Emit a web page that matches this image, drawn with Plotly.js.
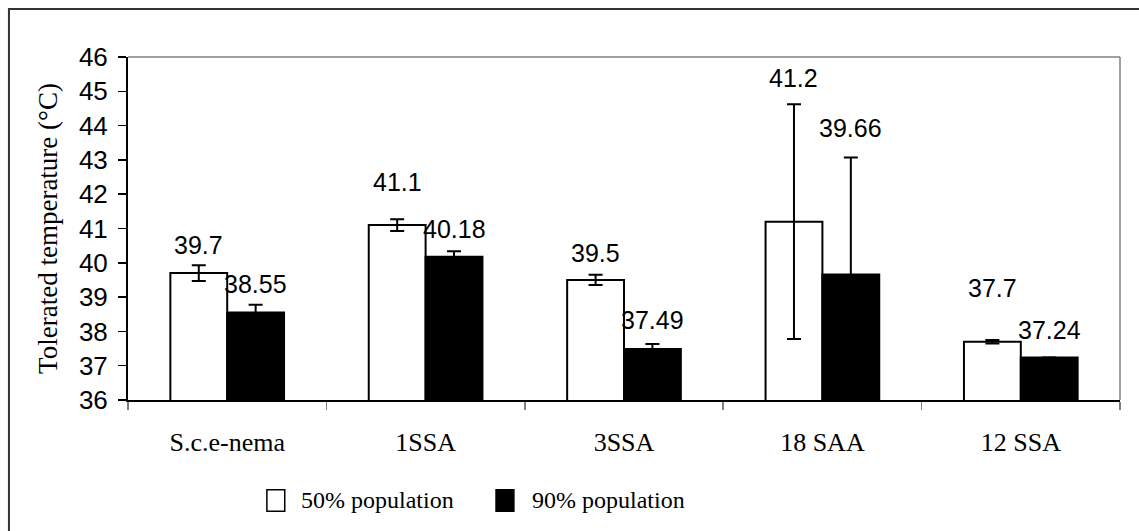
<!DOCTYPE html>
<html>
<head>
<meta charset="utf-8">
<script src="https://cdn.plot.ly/plotly-3.0.1.min.js"></script>
<style>
  html, body { margin: 0; padding: 0; background: #fff; }
  #chart { width: 1139px; height: 531px; }
</style>
</head>
<body>
<div id="chart"></div>
<script>
// Tolerated temperature of nematode isolates, 50% and 90% of population
const categories = ['S.c.e-nema', '1SSA', '3SSA', '18 SAA', '12 SSA'];
const seriesNames = ['50% population', '90% population'];
const pop50 = [39.7, 41.1, 39.5, 41.2, 37.7];
const pop90 = [38.55, 40.18, 37.49, 39.66, 37.24];
const err50 = [0.23, 0.17, 0.15, 3.42, 0.05];
const err90 = [0.23, 0.16, 0.14, 3.41, 0.0];
const yTicks = [36, 37, 38, 39, 40, 41, 42, 43, 44, 45, 46];

// vertical lift (px) of each value label above its bar top
const lift50 = [28, 43, 27, 144, 54];
const lift90 = [29, 28, 29, 146, 27];

const bargap = 0.427;
const barHalf = (1 - bargap) / 4; // centre offset of each bar within a category

const numFont = { family: 'Liberation Sans, Arial, sans-serif', size: 25, color: '#000' };
const tickNumFont = { family: 'Liberation Sans, Arial, sans-serif', size: 26, color: '#000' };
const serifFont = { family: 'Liberation Serif, Times New Roman, serif', size: 26, color: '#000' };

const traces = [
  {
    type: 'bar', name: seriesNames[0], x: categories, y: pop50,
    marker: { color: '#ffffff', line: { color: '#000', width: 2 } },
    error_y: { type: 'data', array: err50, visible: true, color: '#000', thickness: 2, width: 7 },
    showlegend: false, hoverinfo: 'x+y'
  },
  {
    type: 'bar', name: seriesNames[1], x: categories, y: pop90,
    marker: { color: '#000000', line: { color: '#000', width: 2 } },
    error_y: { type: 'data', array: err90, visible: true, color: '#000', thickness: 2, width: 7 },
    showlegend: false, hoverinfo: 'x+y'
  }
];

const annotations = [];
categories.forEach((c, i) => {
  annotations.push({
    x: i - barHalf, y: pop50[i], xref: 'x', yref: 'y', text: String(pop50[i]),
    showarrow: false, yanchor: 'middle', yshift: lift50[i], font: numFont
  });
  annotations.push({
    x: i + barHalf, y: pop90[i], xref: 'x', yref: 'y', text: String(pop90[i]),
    showarrow: false, yanchor: 'middle', yshift: lift90[i], font: numFont
  });
});

// legend drawn as boxes + labels below the axis
const legendFill = ['#ffffff', '#000000'];
const legendBoxX = [0.140, 0.371];
const legendTextX = [0.1724, 0.405];
const shapes = [
  // outer frame of the figure
  { type: 'rect', xref: 'paper', yref: 'paper', x0: -0.12, x1: 1.2, y0: -0.7, y1: 1.14,
    line: { color: '#333', width: 2 }, fillcolor: 'rgba(0,0,0,0)', layer: 'below' },
  // top and right edges of the plotting area
  { type: 'line', xref: 'paper', yref: 'paper', x0: 0, x1: 1, y0: 1, y1: 1,
    line: { color: '#808080', width: 1.5 } },
  { type: 'line', xref: 'paper', yref: 'paper', x0: 1, x1: 1, y0: 0, y1: 1,
    line: { color: '#808080', width: 1.5 } }
];
seriesNames.forEach((n, k) => {
  shapes.push({ type: 'rect', xref: 'paper', yref: 'paper',
    x0: legendBoxX[k], x1: legendBoxX[k] + 0.018, y0: -0.324, y1: -0.262,
    fillcolor: legendFill[k], line: { color: '#000', width: 1.5 } });
  annotations.push({ xref: 'paper', yref: 'paper', x: legendTextX[k], y: -0.293,
    xanchor: 'left', yanchor: 'middle', text: n, showarrow: false,
    font: { family: serifFont.family, size: 24, color: '#000' } });
});

const layout = {
  width: 1139, height: 531,
  margin: { l: 128, r: 19, t: 57, b: 131, pad: 0 },
  paper_bgcolor: '#fff', plot_bgcolor: '#fff',
  barmode: 'group', bargap: bargap, bargroupgap: 0,
  showlegend: false,
  xaxis: {
    type: 'category', showgrid: false, zeroline: false,
    showline: true, linecolor: '#000', linewidth: 2,
    ticks: 'outside', tickson: 'boundaries', ticklen: 8, tickcolor: '#808080', tickwidth: 1.5,
    tickfont: serifFont, ticklabelstandoff: 18
  },
  yaxis: {
    range: [36, 46], tickvals: yTicks, showgrid: false, zeroline: false,
    showline: true, linecolor: '#000', linewidth: 2,
    ticks: 'outside', ticklen: 8, tickcolor: '#000', tickwidth: 1.5,
    tickfont: tickNumFont, ticklabelstandoff: 5,
    title: { text: 'Tolerated temperature (°C)', font: { family: serifFont.family, size: 27, color: '#000' }, standoff: 13 }
  },
  shapes: shapes,
  annotations: annotations
};

Plotly.newPlot('chart', traces, layout, { displayModeBar: false, staticPlot: true });
</script>
</body>
</html>
